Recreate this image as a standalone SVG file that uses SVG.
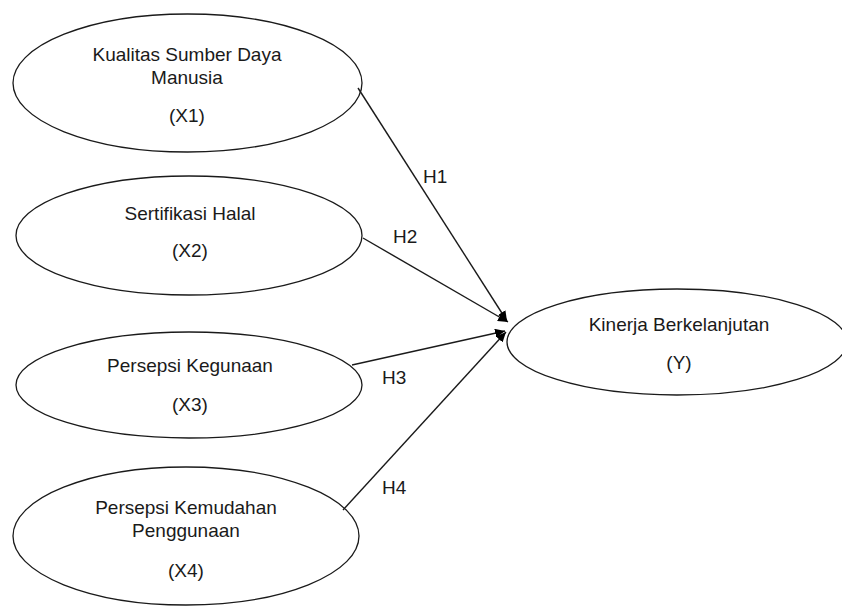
<svg xmlns="http://www.w3.org/2000/svg" width="842" height="607" viewBox="0 0 842 607">
<style>
.node ellipse{fill:#fff;stroke:#1a1a1a;stroke-width:1.3}
text{font-family:"Liberation Sans",Arial,sans-serif;font-size:19px;fill:#1a1a1a;text-anchor:middle}
.edge line{stroke:#1a1a1a;stroke-width:1.4;marker-end:url(#arr)}
.lbl{text-anchor:start}
</style>
<defs>
<marker id="arr" markerUnits="userSpaceOnUse" markerWidth="11" markerHeight="9" refX="10" refY="4.5" orient="auto">
<path d="M0,0 L10,4.5 L0,9 z" fill="#000"/>
</marker>
</defs>
<rect width="842" height="607" fill="#fff"/>
<g id="X1" class="node">
<ellipse cx="187.5" cy="83" rx="174.5" ry="69"/>
<text x="187" y="60.5">Kualitas Sumber Daya</text>
<text x="187" y="83.5">Manusia</text>
<text x="187" y="122">(X1)</text>
</g>
<g id="X2" class="node">
<ellipse cx="189" cy="235.5" rx="173" ry="59.5"/>
<text x="190" y="220">Sertifikasi Halal</text>
<text x="190" y="257">(X2)</text>
</g>
<g id="X3" class="node">
<ellipse cx="189" cy="385" rx="173" ry="53"/>
<text x="190" y="372">Persepsi Kegunaan</text>
<text x="190" y="411">(X3)</text>
</g>
<g id="X4" class="node">
<ellipse cx="186" cy="536" rx="173" ry="69"/>
<text x="186" y="514">Persepsi Kemudahan</text>
<text x="186" y="537">Penggunaan</text>
<text x="186" y="577">(X4)</text>
</g>
<g id="Y" class="node">
<ellipse cx="677" cy="342" rx="170" ry="53"/>
<text x="679" y="331">Kinerja Berkelanjutan</text>
<text x="679" y="369">(Y)</text>
</g>
<g id="connectors" class="edge">
<line x1="358" y1="88" x2="507" y2="321"/>
<line x1="363" y1="238" x2="508" y2="322"/>
<line x1="352" y1="365" x2="505" y2="331"/>
<line x1="343" y1="510" x2="506" y2="332"/>
<text class="lbl" x="423" y="183">H1</text>
<text class="lbl" x="393" y="243">H2</text>
<text class="lbl" x="382" y="384">H3</text>
<text class="lbl" x="382" y="494">H4</text>
</g>
</svg>
